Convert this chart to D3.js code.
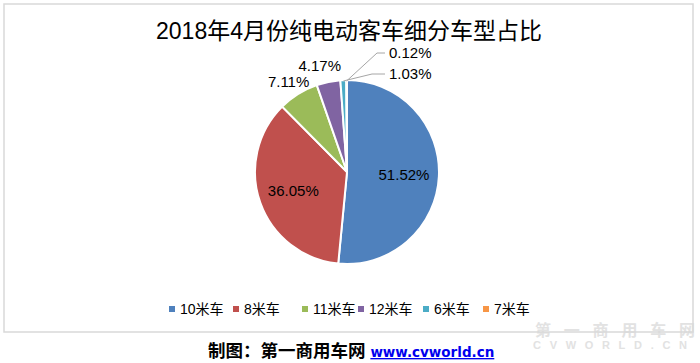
<!DOCTYPE html>
<html>
<head>
<meta charset="utf-8">
<script src="https://cdn.jsdelivr.net/npm/d3@7"></script>
<style>
    body { margin: 0; background: #fff; }
    svg { display: block; font-family: "Liberation Sans", Arial, "Noto Sans CJK SC", sans-serif; }
    .slice-label { font-size: 15px; fill: #000; }
    .legend-text { font-size: 14px; fill: #000; }
</style>
</head>
<body>
<svg width="700" height="363"></svg>
<script>
// Chart data
var categories = ["10米车", "8米车", "11米车", "12米车", "6米车", "7米车"];
var shares = [51.52, 36.05, 7.11, 4.17, 1.03, 0.12];
var labels = ["51.52%", "36.05%", "7.11%", "4.17%", "1.03%", "0.12%"];
var colors = ["#4F81BD", "#C0504D", "#9BBB59", "#8064A2", "#4BACC6", "#F79646"];

var svg = d3.select("svg"),
    cx = 347,
    cy = 172,
    radius = 92;

// Watermark (sits under the frame edge like the original)
var wm = svg.append("g").style("fill", "#e2e2e2").style("font-weight", "bold");
wm.append("text")
    .attr("x", 535).attr("y", 336)
    .attr("textLength", 160)
    .attr("lengthAdjust", "spacing")
    .style("font-size", "16px")
    .text("第一商用车网");
wm.append("text")
    .attr("x", 533).attr("y", 349)
    .attr("textLength", 154)
    .attr("lengthAdjust", "spacing")
    .style("font-size", "11px")
    .text("CVWORLD.CN");

// Chart frame
svg.append("rect")
    .attr("x", 4).attr("y", 4)
    .attr("width", 689).attr("height", 328)
    .attr("fill", "none")
    .attr("stroke", "#d9d9d9")
    .attr("stroke-width", 1.5);

// Title
svg.append("text")
    .attr("x", 349)
    .attr("y", 39)
    .attr("text-anchor", "middle")
    .style("font-size", "23px")
    .style("fill", "#000")
    .text("2018年4月份纯电动客车细分车型占比");

var data = categories.map(function (c, i) {
    return { name: c, value: shares[i], label: labels[i], color: colors[i] };
});

var pie = d3.pie().sort(null).value(function (d) { return d.value; });
var arc = d3.arc().innerRadius(0).outerRadius(radius);
var arcs = pie(data);

var g = svg.append("g").attr("transform", "translate(" + cx + "," + cy + ")");

g.selectAll("path.slice")
    .data(arcs)
    .enter()
    .append("path")
    .attr("class", "slice")
    .attr("d", arc)
    .attr("fill", function (d) { return d.data.color; })
    .attr("stroke", "#fff")
    .attr("stroke-width", 2);

// Label placement: inside for big slices, outside for the rest
var inner = d3.arc().innerRadius(radius * 0.62).outerRadius(radius * 0.62);
var outer = d3.arc().innerRadius(radius * 1.2).outerRadius(radius * 1.2);

arcs.forEach(function (d, i) {
    var p;
    var anchor = "middle";
    if (i < 2) {
        p = inner.centroid(d);
    } else if (i < 4) {
        p = outer.centroid(d);
        if (i === 2) p[1] += 3;
        if (i === 3) { p[0] -= 5; p[1] += 2; }
    } else {
        // tiny slices get leader lines
        var edge = d3.arc().innerRadius(radius * 0.99).outerRadius(radius * 0.99).centroid(d);
        var pts = i === 4
            ? [edge, [25, -98], [38, -98]]
            : [edge, [30, -119], [38, -119]];
        g.append("path")
            .attr("d", d3.line()(pts))
            .attr("fill", "none")
            .attr("stroke", "#a6a6a6")
            .attr("stroke-width", 1);
        p = [42, pts[2][1]];
        anchor = "start";
    }
    g.append("text")
        .attr("class", "slice-label")
        .attr("x", p[0])
        .attr("y", p[1])
        .attr("dy", "0.35em")
        .attr("text-anchor", anchor)
        .text(d.data.label);
});

// Legend
var legendX = [169, 233, 302, 358, 423, 483];
var legend = svg.append("g");
data.forEach(function (d, i) {
    legend.append("rect")
        .attr("x", legendX[i])
        .attr("y", 306)
        .attr("width", 6)
        .attr("height", 6)
        .attr("fill", d.color);
    legend.append("text")
        .attr("class", "legend-text")
        .attr("x", legendX[i] + 11)
        .attr("y", 314)
        .text(d.name);
});

// Footer credit
var credit = svg.append("text")
    .attr("x", 208)
    .attr("y", 357)
    .style("font-size", "17.5px")
    .style("font-weight", "bold");
credit.append("tspan").style("fill", "#000").text("制图：第一商用车网 ");
credit.append("tspan")
    .style("fill", "#0000ee")
    .style("text-decoration", "underline")
    .style("font-family", "Verdana, 'DejaVu Sans', sans-serif")
    .style("font-size", "13.5px")
    .text("www.cvworld.cn");
</script>
</body>
</html>
